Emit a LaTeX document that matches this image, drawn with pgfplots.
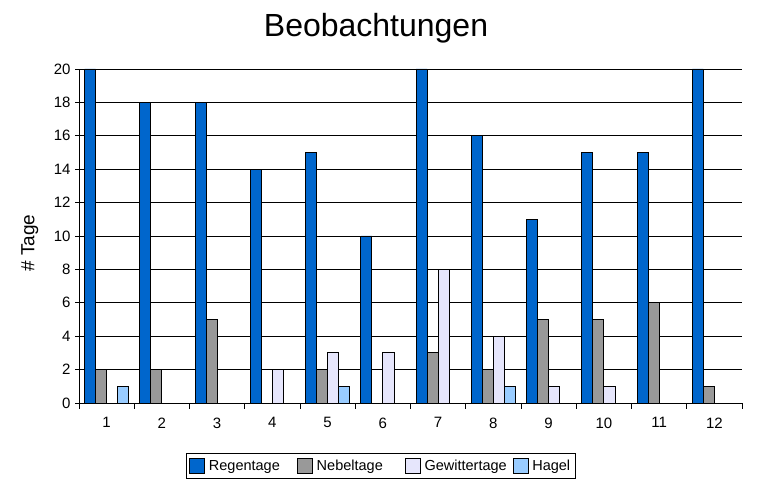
\documentclass[border=0pt]{standalone}
\usepackage{fontspec}
\setmainfont{Liberation Sans}
\usepackage{pgfplots}
\pgfplotsset{compat=1.18}
\definecolor{regen}{RGB}{0,102,204}
\definecolor{nebel}{RGB}{153,153,153}
\definecolor{gewitter}{RGB}{230,230,252}
\definecolor{hagel}{RGB}{153,204,255}
\begin{document}
\begin{tikzpicture}[x=1pt,y=1pt]
\path[use as bounding box] (-79,-91) rectangle (679,403);
\begin{axis}[
  at={(0,0)}, anchor=south west,
  scale only axis, width=663pt, height=334pt,
  xmin=0.5, xmax=12.5, ymin=0, ymax=20,
  axis lines=left, axis line style={-, black, line width=0.8pt},
  xtick={1,...,12},
  minor xtick={0.5,1.5,...,12.5},
  every major x tick/.append style={draw=none},
  minor tick length=6pt,
  major tick length=4pt,
  tick align=outside,
  tick style={black, line width=0.8pt},
  ytick={0,2,...,20},
  ymajorgrids, grid style={black, line width=0.8pt},
  /pgf/number format/assume math mode=true,
  ticklabel style={font=\fontsize{15}{18}\selectfont},
  xticklabel style={yshift=-7pt},
  yticklabel style={xshift=-1pt},
  title={Beobachtungen},
  title style={at={(0.448,1.103)}, anchor=center, font=\fontsize{32}{38}\selectfont},
  ylabel={\# Tage},
  ylabel style={at={(-0.074,0.479)}, anchor=center, font=\fontsize{19}{22}\selectfont},
  legend columns=4,
  legend style={at={(0.455,-0.189)}, anchor=center, draw=black, line width=0.8pt,
    font=\fontsize{14.5}{17}\selectfont, inner xsep=3pt, inner ysep=4.5pt,
    /tikz/every even column/.append style={column sep=0pt}},
  legend image code/.code={\draw[#1, draw=black, line width=0.8pt] (0pt,-7.5pt) rectangle (15pt,7.5pt);},
]
\addplot[ybar, bar width=0.2, bar shift=-0.3, fill=regen, draw=black, line width=0.8pt]
  coordinates {(1,20) (2,18) (3,18) (4,14) (5,15) (6,10) (7,20) (8,16) (9,11) (10,15) (11,15) (12,20)};
\addlegendentry{\makebox[88pt][l]{\hspace{2pt}Regentage}}
\addplot[ybar, bar width=0.2, bar shift=-0.1, fill=nebel, draw=black, line width=0.8pt]
  coordinates {(1,2) (2,2) (3,5) (5,2) (7,3) (8,2) (9,5) (10,5) (11,6) (12,1)};
\addlegendentry{\makebox[88pt][l]{\hspace{2pt}Nebeltage}}
\addplot[ybar, bar width=0.2, bar shift=0.1, fill=gewitter, draw=black, line width=0.8pt]
  coordinates {(4,2) (5,3) (6,3) (7,8) (8,4) (9,1) (10,1)};
\addlegendentry{\makebox[88pt][l]{\hspace{2pt}Gewittertage}}
\addplot[ybar, bar width=0.2, bar shift=0.3, fill=hagel, draw=black, line width=0.8pt]
  coordinates {(1,1) (5,1) (8,1)};
\addlegendentry{\hspace{2pt}Hagel}
\end{axis}
\end{tikzpicture}
\end{document}
